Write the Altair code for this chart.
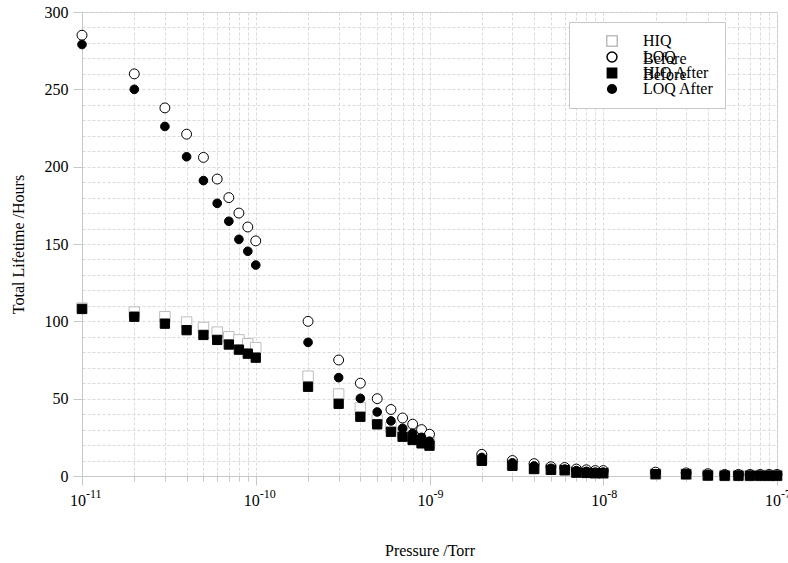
import altair as alt
import pandas as pd

# Pressure points: 1..9 x each decade from 1e-11 to 1e-8, plus 1e-7
pressure = [
    1e-11, 2e-11, 3e-11, 4e-11, 5e-11, 6e-11, 7e-11, 8e-11, 9e-11,
    1e-10, 2e-10, 3e-10, 4e-10, 5e-10, 6e-10, 7e-10, 8e-10, 9e-10,
    1e-9, 2e-9, 3e-9, 4e-9, 5e-9, 6e-9, 7e-9, 8e-9, 9e-9,
    1e-8, 2e-8, 3e-8, 4e-8, 5e-8, 6e-8, 7e-8, 8e-8, 9e-8,
    1e-7,
]

# Total lifetime (hours) per series
hiq_before = [
    108.5, 106, 103, 99.5, 96, 93, 90, 88, 85.5,
    83, 64.5, 53, 44, 36, 31.5, 28, 25.5, 23,
    21.5, 11, 7.5, 5, 4.5, 4, 2.5, 2.3, 2,
    2, 1.3, 1.2, 0.5, 0.3, 0.3, 0.3, 0.3, 0.3,
    0.3,
]
loq_before = [
    285, 260, 238, 221, 206, 192, 180, 170, 161,
    152, 100, 75, 60, 50, 43, 37.5, 33.5, 30,
    27, 14, 10, 8, 6, 5.5, 4.5, 4, 3.5,
    3.5, 2.5, 2, 1.5, 1, 1, 1, 1, 1,
    1,
]
hiq_after = [
    108, 103, 98.5, 94.3, 91.2, 88, 85, 81.7, 79.1,
    76.5, 57.7, 46.7, 38.3, 33.4, 28.6, 25.4, 23.3, 21.1,
    19.6, 9.8, 6.6, 4.5, 4, 3.7, 2.2, 2, 1.8,
    1.8, 1.2, 1.1, 0.3, 0.2, 0.2, 0.2, 0.2, 0.2,
    0.2,
]
loq_after = [
    279, 250, 226, 206.4, 191, 176.3, 164.7, 153, 145.3,
    136.4, 86.4, 63.6, 50.2, 41.4, 35.6, 30.8, 27.6, 25,
    22.5, 12, 8.5, 6.5, 5, 4.5, 3.5, 3, 2.5,
    2.5, 1.5, 1.2, 1, 0.8, 0.6, 0.5, 0.5, 0.5,
    0.5,
]

series_names = ["HIQ Before", "LOQ Before", "HIQ After", "LOQ After"]
series_values = [hiq_before, loq_before, hiq_after, loq_after]

shapes = ["square", "circle", "square", "circle"]
fills = ["white", "white", "black", "black"]
strokes = ["#bdbdbd", "black", "black", "black"]
sizes = [110, 75, 144, 80]

rows = []
for name, vals in zip(series_names, series_values):
    for p, v in zip(pressure, vals):
        rows.append({"series": name, "group": name, "pressure": p, "lifetime": v})
df = pd.DataFrame(rows)

# Grid / tick positions
x_grid = [m * 10.0 ** d for d in range(-11, -7) for m in range(1, 10)] + [1e-7]
y_grid = list(range(0, 301, 10))

decades = [-11, -10, -9, -8, -7]
labels_df = pd.DataFrame({
    "pos": [10.0 ** d for d in decades],
    "base": ["10"] * len(decades),
    "exp": [str(d) for d in decades],
})

W, H = 695, 464
SERIF = "Liberation Serif"
is_decade = "abs(log(datum.value)/LN10 - round(log(datum.value)/LN10)) < 0.001"
LEG_X, LEG_Y = 487, 10

legend_common = dict(
    orient="none", legendX=LEG_X, padding=11,
    symbolOffset=24, labelOffset=23, rowPadding=0, clipHeight=16,
    labelFont=SERIF, labelFontSize=16, labelColor="black", labelLimit=0,
)

# Main legend: symbols plus the first line of each label
legend = alt.Legend(
    legendY=LEG_Y, fillColor="white", strokeColor="#c8c8c8",
    labelExpr="indexof(datum.label, 'Before') > 0 ? replace(datum.label, ' Before', '') : datum.label",
    **legend_common,
)
# Second line ("Before") of the wrapped labels, one line-height lower
legend_line2 = alt.Legend(
    legendY=LEG_Y + 18, symbolSize=144,
    symbolFillColor="transparent", symbolStrokeColor="transparent", symbolStrokeWidth=0,
    labelExpr="indexof(datum.label, 'Before') > 0 ? 'Before' : ''",
    **legend_common,
)

x_scale = alt.Scale(type="log", domain=[1e-11, 1e-7], nice=False)

points = alt.Chart(df).mark_point(filled=True, opacity=1, strokeWidth=1).encode(
    x=alt.X(
        "pressure:Q", scale=x_scale,
        axis=alt.Axis(
            values=x_grid, labels=False, title="Pressure /Torr",
            titleY=74, titleBaseline="middle",
            tickSize={"condition": {"test": is_decade, "value": 9}, "value": 5},
        ),
    ),
    y=alt.Y(
        "lifetime:Q", scale=alt.Scale(domain=[0, 300], nice=False),
        axis=alt.Axis(
            values=y_grid, title="Total Lifetime /Hours",
            labelExpr="datum.value % 50 == 0 ? datum.label : ''",
            tickColor={"condition": {"test": "datum.value % 50 == 0", "value": "#c8c8c8"},
                       "value": "transparent"},
            tickSize=9, labelPadding=5, labelFontSize=16,
            titleX=-64, titleY=H / 2, titleBaseline="middle", titleAngle=-90,
        ),
    ),
    shape=alt.Shape("series:N", title=None, sort=series_names,
                    scale=alt.Scale(domain=series_names, range=shapes), legend=legend),
    fill=alt.Fill("series:N", title=None, sort=series_names,
                  scale=alt.Scale(domain=series_names, range=fills), legend=legend),
    stroke=alt.Stroke("series:N", title=None, sort=series_names,
                      scale=alt.Scale(domain=series_names, range=strokes), legend=legend),
    size=alt.Size("series:N", title=None, sort=series_names,
                  scale=alt.Scale(domain=series_names, range=sizes), legend=legend),
    opacity=alt.Opacity("group:N", title=None, sort=series_names,
                        scale=alt.Scale(range=[1, 1, 1, 1]),
                        legend=legend_line2),
)

base_text = alt.Chart(labels_df).encode(x=alt.X("pos:Q", scale=x_scale))
tick_base = base_text.mark_text(
    font=SERIF, fontSize=16, align="right", baseline="alphabetic", dx=4, color="black"
).encode(y=alt.value(H + 30), text="base:N")
tick_exp = base_text.mark_text(
    font=SERIF, fontSize=12, align="left", baseline="alphabetic", dx=4, color="black"
).encode(y=alt.value(H + 22), text="exp:N")

chart = alt.layer(points, tick_base, tick_exp).properties(
    width=W, height=H,
    autosize=alt.AutoSizeParams(type="none"),
    padding={"left": 82, "top": 12, "right": 11, "bottom": 87},
    background="white",
).configure_view(
    stroke="#c8c8c8", strokeWidth=1,
).configure_axis(
    domainColor="#c8c8c8", tickColor="#c8c8c8",
    gridColor="#dadada", gridDash=[3, 2], gridWidth=1,
    labelFont=SERIF, labelFontSize=16, labelColor="black",
    titleFont=SERIF, titleFontSize=16, titleFontWeight="normal", titleColor="black",
)

chart.save("out.html", embed_options={"renderer": "svg", "actions": False})
